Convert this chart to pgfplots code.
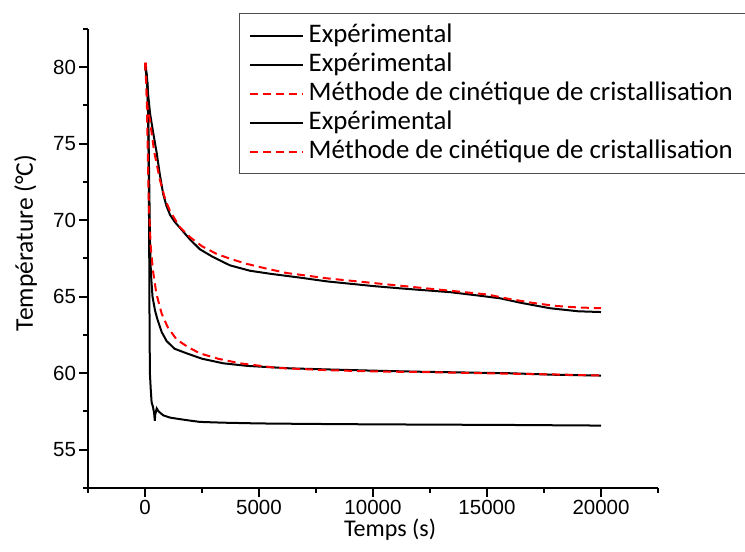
\documentclass[border=0pt]{standalone}
\usepackage{fontspec}
\usepackage{pgfplots}
\pgfplotsset{compat=1.18}
\newfontfamily\carlito{Carlito}
\newfontfamily\arialf{Liberation Sans}
\begin{document}
\begin{tikzpicture}
\useasboundingbox (0,0) rectangle (745pt,552pt);
\begin{axis}[
  at={(88pt,64pt)}, anchor=south west,
  scale only axis, width=570pt, height=459pt,
  xmin=-2500, xmax=22500, ymin=52.5, ymax=82.5,
  axis lines=left, axis line style={-, line width=2.2pt},
  xtick={0,5000,10000,15000,20000},
  minor xtick={-2500,2500,7500,12500,17500,22500},
  ytick={55,60,65,70,75,80},
  minor ytick={52.5,57.5,62.5,67.5,72.5,77.5,82.5},
  tick align=outside,
  major tick length=8.5pt, minor tick length=4.5pt,
  every tick/.style={black, line width=2pt},
  scaled x ticks=false,
  /pgf/number format/assume math mode=true,
  /pgf/number format/set thousands separator={},
  tick label style={font=\arialf\fontsize{20.5}{24}\selectfont},
  xlabel={Temps (s)},
  ylabel={Température (°C)},
  xlabel style={font=\carlito\fontsize{24}{28}\selectfont, at={(axis description cs:0.53,0)}, anchor=base, yshift=-48pt},
  ylabel style={font=\carlito\fontsize{25.5}{29}\selectfont, at={(axis description cs:0,0.534)}, anchor=base, yshift=55pt},
  legend image code/.code={\draw[#1] (0pt,0pt) -- (53pt,0pt);},
  legend cell align=left,
  legend style={at={(0.265,1.035)}, anchor=north west, draw=black!70, line width=1.3pt, fill=white,
    font=\carlito\fontsize{26.8}{30}\selectfont, inner xsep=9.5pt, inner ysep=7.5pt, row sep=0pt,
    nodes={inner ysep=1.5pt, inner xsep=4.5pt, text height=20pt, text depth=6pt}},
]
% bottom experimental
\addplot[black, line width=2pt] coordinates {
(30,79.9) (80,79.5) (120,78.5) (160,74) (185,68) (200,63) (215,60) (250,59) (290,58.1) (350,57.8) (400,57.4) (430,56.9) (450,57.3) (513,57.7) (600,57.5) (800,57.25) (1100,57.1) (1535,57.0) (2000,56.9) (2410,56.82) (3400,56.77) (5000,56.72) (6360,56.7) (8000,56.68) (10000,56.66) (13000,56.64) (16000,56.62) (20000,56.58)};
\addlegendentry{Expérimental}
% middle experimental
\addplot[black, line width=2pt] coordinates {
(30,80.0) (100,79) (150,76) (190,72) (220,68.5) (260,66.5) (330,65) (440,64.1) (550,63.5) (730,62.7) (950,62.1) (1300,61.6) (1830,61.3) (2500,60.95) (3430,60.65) (4500,60.48) (6360,60.32) (8000,60.25) (10000,60.17) (12000,60.1) (14000,60.05) (16000,60.0) (18000,59.9) (20000,59.85)};
\addlegendentry{Expérimental}
% middle model
\addplot[red, line width=2pt, dash pattern=on 8pt off 5pt] coordinates {
(40,80.3) (80,78) (120,74.5) (170,71) (250,68.3) (350,66.7) (500,65.2) (730,63.9) (1000,63.0) (1390,62.2) (1900,61.7) (2410,61.3) (3200,60.95) (4170,60.65) (5775,60.35) (8000,60.2) (10000,60.12) (12000,60.08) (15000,60.0) (18000,59.92) (20000,59.85)};
\addlegendentry{Méthode de cinétique de cristallisation}
% top experimental
\addplot[black, line width=2pt] coordinates {
(0,80.1) (60,79.5) (120,78.5) (220,77) (350,75.8) (513,74.4) (650,73.0) (800,71.7) (950,70.9) (1100,70.35) (1300,69.9) (1535,69.5) (1970,68.75) (2410,68.1) (2980,67.6) (3730,67.05) (4605,66.7) (5500,66.5) (6800,66.25) (8000,66.0) (9000,65.85) (10000,65.7) (11180,65.55) (12500,65.4) (13380,65.3) (14500,65.1) (15570,64.9) (16500,64.6) (17760,64.25) (19000,64.05) (20000,64.0)};
\addlegendentry{Expérimental}
% top model
\addplot[red, line width=2pt, dash pattern=on 8pt off 5pt] coordinates {
(0,80.3) (50,79) (100,77.5) (220,76.5) (400,74.5) (660,72.6) (900,71.3) (1100,70.6) (1500,69.6) (1970,68.9) (2500,68.3) (3140,67.8) (3800,67.45) (4460,67.15) (5300,66.85) (6215,66.55) (7000,66.4) (8000,66.2) (9000,66.05) (10000,65.9) (11000,65.75) (12000,65.6) (13000,65.45) (14000,65.3) (15000,65.15) (16000,64.85) (17000,64.6) (18000,64.4) (19000,64.3) (20000,64.25)};
\addlegendentry{Méthode de cinétique de cristallisation}
\end{axis}
\end{tikzpicture}
\end{document}
